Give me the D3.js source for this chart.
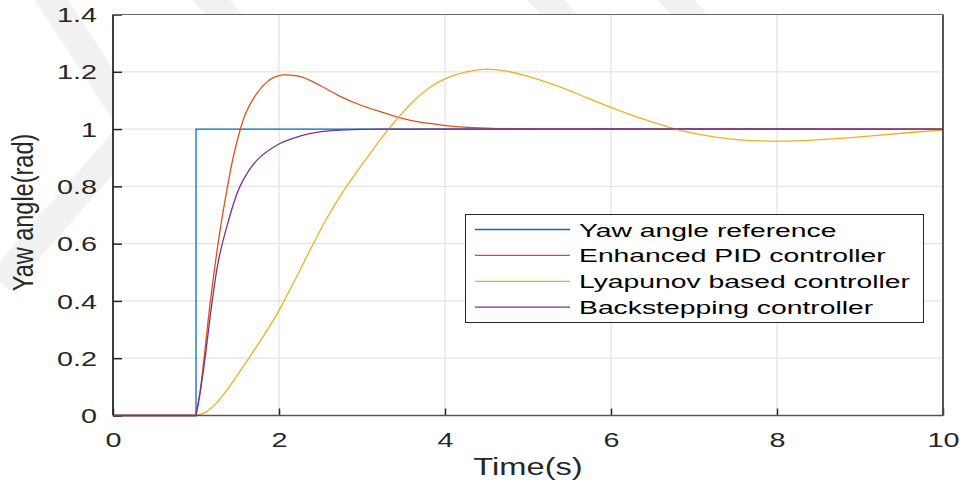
<!DOCTYPE html>
<html>
<head>
<meta charset="utf-8">
<script src="https://cdn.jsdelivr.net/npm/d3@7/dist/d3.min.js"></script>
<style>
  html, body { margin: 0; padding: 0; background: #ffffff; }
  svg { display: block; }
  text { font-family: "Liberation Sans", Arial, Helvetica, sans-serif; fill: #262626; }
</style>
</head>
<body>
<svg id="chart" width="965" height="491"></svg>
<script>
// ---------------- DATA ----------------
const xTicks = [0, 2, 4, 6, 8, 10];
const yTicks = [0, 0.2, 0.4, 0.6, 0.8, 1, 1.2, 1.4];
const yTickLabels = ["0", "0.2", "0.4", "0.6", "0.8", "1", "1.2", "1.4"];

const seriesNames = ["Yaw angle reference", "Enhanced PID controller", "Lyapunov based controller", "Backstepping controller"];

const refT = [0, 1, 1, 10];
const refV = [0, 0, 1, 1];

const pidT = [0, 1.0, 1.05, 1.09, 1.18, 1.29, 1.38, 1.44, 1.53, 1.60, 1.71, 1.85, 1.95, 2.05, 2.25, 2.49, 2.73, 2.98, 3.22, 3.46, 3.70, 3.94, 4.18, 4.42, 4.70, 5.0, 10];
const pidV = [0, 0, 0.085, 0.183, 0.415, 0.647, 0.80, 0.89, 0.995, 1.056, 1.115, 1.163, 1.182, 1.189, 1.184, 1.153, 1.115, 1.084, 1.061, 1.039, 1.024, 1.015, 1.008, 1.004, 1.001, 1.0, 1.0];

const lyaT = [0, 1.0, 1.12, 1.25, 1.40, 1.59, 1.77, 1.90, 2.00, 2.17, 2.24, 2.37, 2.57, 2.78, 2.98, 3.10, 3.20, 3.30, 3.40, 3.62, 3.82, 4.02, 4.26, 4.50, 4.74, 4.98, 5.23, 5.47, 5.71, 5.95, 6.19, 6.43, 6.67, 6.91, 7.15, 7.40, 7.70, 8.00, 8.30, 8.68, 9.00, 9.28, 9.60, 10];
const lyaV = [0, 0, 0.012, 0.045, 0.10, 0.18, 0.258, 0.318, 0.367, 0.461, 0.50, 0.575, 0.685, 0.785, 0.868, 0.915, 0.955, 0.993, 1.028, 1.097, 1.146, 1.178, 1.200, 1.209, 1.202, 1.186, 1.163, 1.138, 1.109, 1.081, 1.055, 1.031, 1.009, 0.990, 0.977, 0.967, 0.960, 0.958, 0.960, 0.966, 0.973, 0.980, 0.988, 0.996];

const bsT = [0, 1.0, 1.05, 1.10, 1.20, 1.27, 1.36, 1.53, 1.73, 2.00, 2.25, 2.49, 2.75, 3.00, 3.30, 10];
const bsV = [0, 0, 0.08, 0.18, 0.41, 0.54, 0.647, 0.80, 0.89, 0.948, 0.975, 0.99, 0.996, 0.999, 1.0, 1.0];

const colors = ["#0072BD", "#D95319", "#EDB120", "#7E2F8E"];

// ---------------- LAYOUT ----------------
const svg = d3.select("#chart");
const L = 113, R = 943, T = 14.5, B = 415.5;
const x = d3.scaleLinear().domain([0, 10]).range([L, R]);
const y = d3.scaleLinear().domain([0, 1.4]).range([B, T]);

// faint watermark chevrons (background)
const wm = svg.append("g").attr("fill", "none").attr("stroke", "#f1f1f1").attr("stroke-width", 28);
wm.append("polyline").attr("points", "35,-25 135,128 0,282");
wm.append("line").attr("x1", 185).attr("y1", -30).attr("x2", 255).attr("y2", 50);
wm.append("line").attr("x1", 520).attr("y1", -30).attr("x2", 590).attr("y2", 50);
wm.append("line").attr("x1", 650).attr("y1", -30).attr("x2", 720).attr("y2", 50);

// plot background
svg.append("rect").attr("x", L).attr("y", T).attr("width", R - L).attr("height", B - T).attr("fill", "#ffffff");

// grid
const grid = svg.append("g").attr("stroke", "#e3e3e3").attr("stroke-width", 1.2);
grid.selectAll("line.vx").data(xTicks.slice(1, -1)).join("line")
  .attr("x1", d => x(d)).attr("x2", d => x(d)).attr("y1", T).attr("y2", B);
grid.selectAll("line.hy").data(yTicks.slice(1, -1)).join("line")
  .attr("x1", L).attr("x2", R).attr("y1", d => y(d)).attr("y2", d => y(d));

// series
const zip = (a, b) => a.map((v, i) => [v, b[i]]);
const line = d3.line().x(d => x(d[0])).y(d => y(d[1]));
const smooth = d3.line().x(d => x(d[0])).y(d => y(d[1])).curve(d3.curveCatmullRom.alpha(0.5));
// flat part (t <= 1) drawn straight, the response part smoothed
function responsePath(ts, vs) {
  const pts = zip(ts, vs);
  const flat = pts.filter(p => p[0] <= 1);
  const resp = pts.filter(p => p[0] >= 1);
  return line(flat) + smooth(resp).replace(/^M/, "L");
}

const plot = svg.append("g").attr("fill", "none").attr("stroke-width", 1.3);
plot.append("path").attr("d", line(zip(refT, refV))).attr("stroke", colors[0]);
plot.append("path").attr("d", responsePath(pidT, pidV)).attr("stroke", colors[1]);
plot.append("path").attr("d", responsePath(lyaT, lyaV)).attr("stroke", colors[2]);
plot.append("path").attr("d", responsePath(bsT, bsV)).attr("stroke", colors[3]);

// axes
const xAxis = d3.axisBottom(x).tickValues(xTicks).tickSizeInner(-7).tickSizeOuter(0).tickFormat(d3.format("d"));
const gx = svg.append("g").attr("transform", `translate(0,${B})`).call(xAxis);
gx.select(".domain").remove();
gx.selectAll(".tick line").attr("stroke", "#262626").attr("stroke-width", 1.5);
gx.selectAll(".tick text")
  .attr("y", 0).attr("dy", 0)
  .attr("transform", "translate(0,31) scale(1.44,1)")
  .attr("text-anchor", "middle")
  .style("font-size", "20px").style("fill", "#262626");

const yAxis = d3.axisLeft(y).tickValues(yTicks).tickSizeInner(-9).tickSizeOuter(0)
  .tickFormat((d, i) => yTickLabels[i]);
const gy = svg.append("g").attr("transform", `translate(${L},0)`).call(yAxis);
gy.select(".domain").remove();
gy.selectAll(".tick line").attr("stroke", "#262626").attr("stroke-width", 1.5);
gy.selectAll(".tick text")
  .attr("x", 0).attr("dy", 0)
  .attr("transform", "translate(-16,7.2) scale(1.44,1)")
  .attr("text-anchor", "end")
  .style("font-size", "20px").style("fill", "#262626");

// box
const box = svg.append("g").attr("stroke", "#262626").attr("fill", "none");
box.append("line").attr("x1", L).attr("x2", L).attr("y1", T).attr("y2", B).attr("stroke-width", 1.8);
box.append("line").attr("x1", L).attr("x2", R).attr("y1", B).attr("y2", B).attr("stroke-width", 1.5).attr("stroke", "#555");
box.append("line").attr("x1", L).attr("x2", R).attr("y1", T).attr("y2", T).attr("stroke-width", 1.2).attr("stroke", "#666");
box.append("line").attr("x1", R).attr("x2", R).attr("y1", T).attr("y2", B).attr("stroke-width", 1.8).attr("stroke", "#444");

// axis labels
svg.append("text").attr("transform", "translate(528,475) scale(1.42,1)")
  .attr("text-anchor", "middle").style("font-size", "23px").text("Time(s)");
svg.append("text").attr("transform", "translate(33,212.5) scale(1.25,1) rotate(-90)")
  .attr("text-anchor", "middle").style("font-size", "23.5px").text("Yaw angle(rad)");

// legend
const lg = svg.append("g");
lg.append("rect").attr("x", 465.5).attr("y", 214.5).attr("width", 458).attr("height", 108)
  .attr("fill", "#ffffff").attr("stroke", "#262626").attr("stroke-width", 1);
const ly0 = 229.5, lstep = 25.9;
seriesNames.forEach((name, i) => {
  const yy = ly0 + i * lstep;
  lg.append("line").attr("x1", 475).attr("x2", 570).attr("y1", yy).attr("y2", yy)
    .attr("stroke", colors[i]).attr("stroke-width", 1.3);
  lg.append("text").attr("transform", `translate(579,${yy + 7}) scale(1.53,1)`)
    .style("font-size", "18.5px").style("fill", "#000").text(name);
});
</script>
</body>
</html>
